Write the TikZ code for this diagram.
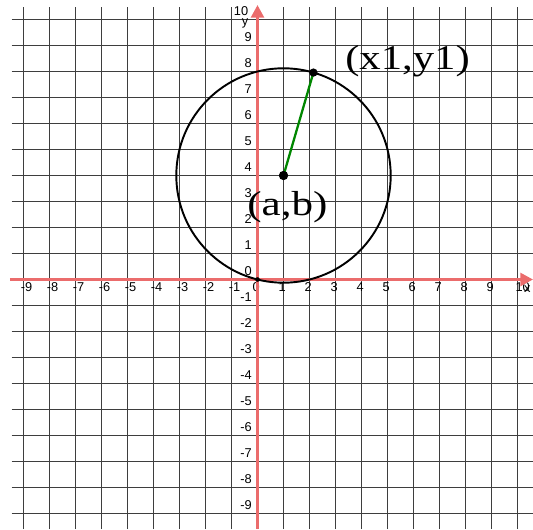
\documentclass[tikz,border=0pt]{standalone}
\usepackage{fontspec}
\setmainfont{Liberation Sans}
\newfontfamily\labelfont{Liberation Serif}
\usetikzlibrary{arrows.meta}
\definecolor{axisred}{RGB}{235,108,108}
\definecolor{gridgray}{RGB}{62,62,62}
\definecolor{radgreen}{RGB}{0,135,0}
\begin{document}
\begin{tikzpicture}[
  gridline/.style={gridgray, line width=1.8pt},
  axisline/.style={axisred, line width=3.6pt, -{Triangle[length=14pt,width=14pt]}},
  ticklabel/.style={font=\fontsize{14}{14}\selectfont, inner sep=0pt, text=black},
  biglabel/.style={font=\labelfont\fontsize{38}{38}\selectfont, inner sep=0pt, anchor=base},
  dot/.style={fill=black},
  circ/.style={black, line width=2.1pt},
  radius line/.style={radgreen, line width=2.5pt}
]
\useasboundingbox (-9.904,-9.596) rectangle (10.596,10.75);
% grid
\foreach \k in {-9,...,10} { \draw[gridline] (\k,-9.6) -- (\k,10.47); }
\foreach \k in {-9,...,-1,1,2,...,10} { \draw[gridline] (-9.46,\k) -- (10.6,\k); }
% x tick labels
\foreach \k in {-9,...,-1} { \node[ticklabel, anchor=north] at (\k+0.115,-0.13) {\k}; }
\foreach \k in {0,...,9} { \node[ticklabel, anchor=north] at (\k-0.05,-0.13) {\k}; }
\node[ticklabel, anchor=north] (x10) at (10.2,-0.13) {10};
% y tick labels
\foreach \k in {-9,...,9} { \node[ticklabel, anchor=east] at (-0.21,\k+0.31) {\k}; }
\node[ticklabel, anchor=east] (y10) at (-0.35,10.33) {10};
% axis names
\node[ticklabel] (yname) at (-0.48,9.86) {y};
\node[ticklabel] (xname) at (10.38,-0.36) {x};
% axes
\coordinate (xs) at (-9.52,0);
\coordinate (xe) at (10.6,0);
\coordinate (ys) at (0,-9.6);
\coordinate (ye) at (0,10.56);
\draw[axisline] (xs) -- (xe);
\draw[axisline] (ys) -- (ye);
% circle
\coordinate (ctr) at (1,4);
\coordinate (pt) at ([shift={(1,4)}]73.8:4.123);
\coordinate (org) at (0,0);
\draw[circ] (ctr) circle (4.123);
\draw[radius line] (ctr) -- (pt);
\fill[dot] (ctr) circle (0.18);
\fill[dot] (pt) circle (0.16);
\fill[dot] (org) circle (0.09);
% labels
\node[biglabel] (ptlabel) at (5.77,8.06) {\scalebox{1.23}[1]{(x1,y1)}};
\node[biglabel] (ctrlabel) at (1.15,2.48) {\scalebox{1.24}[1]{(a,b)}};
\end{tikzpicture}
\end{document}
